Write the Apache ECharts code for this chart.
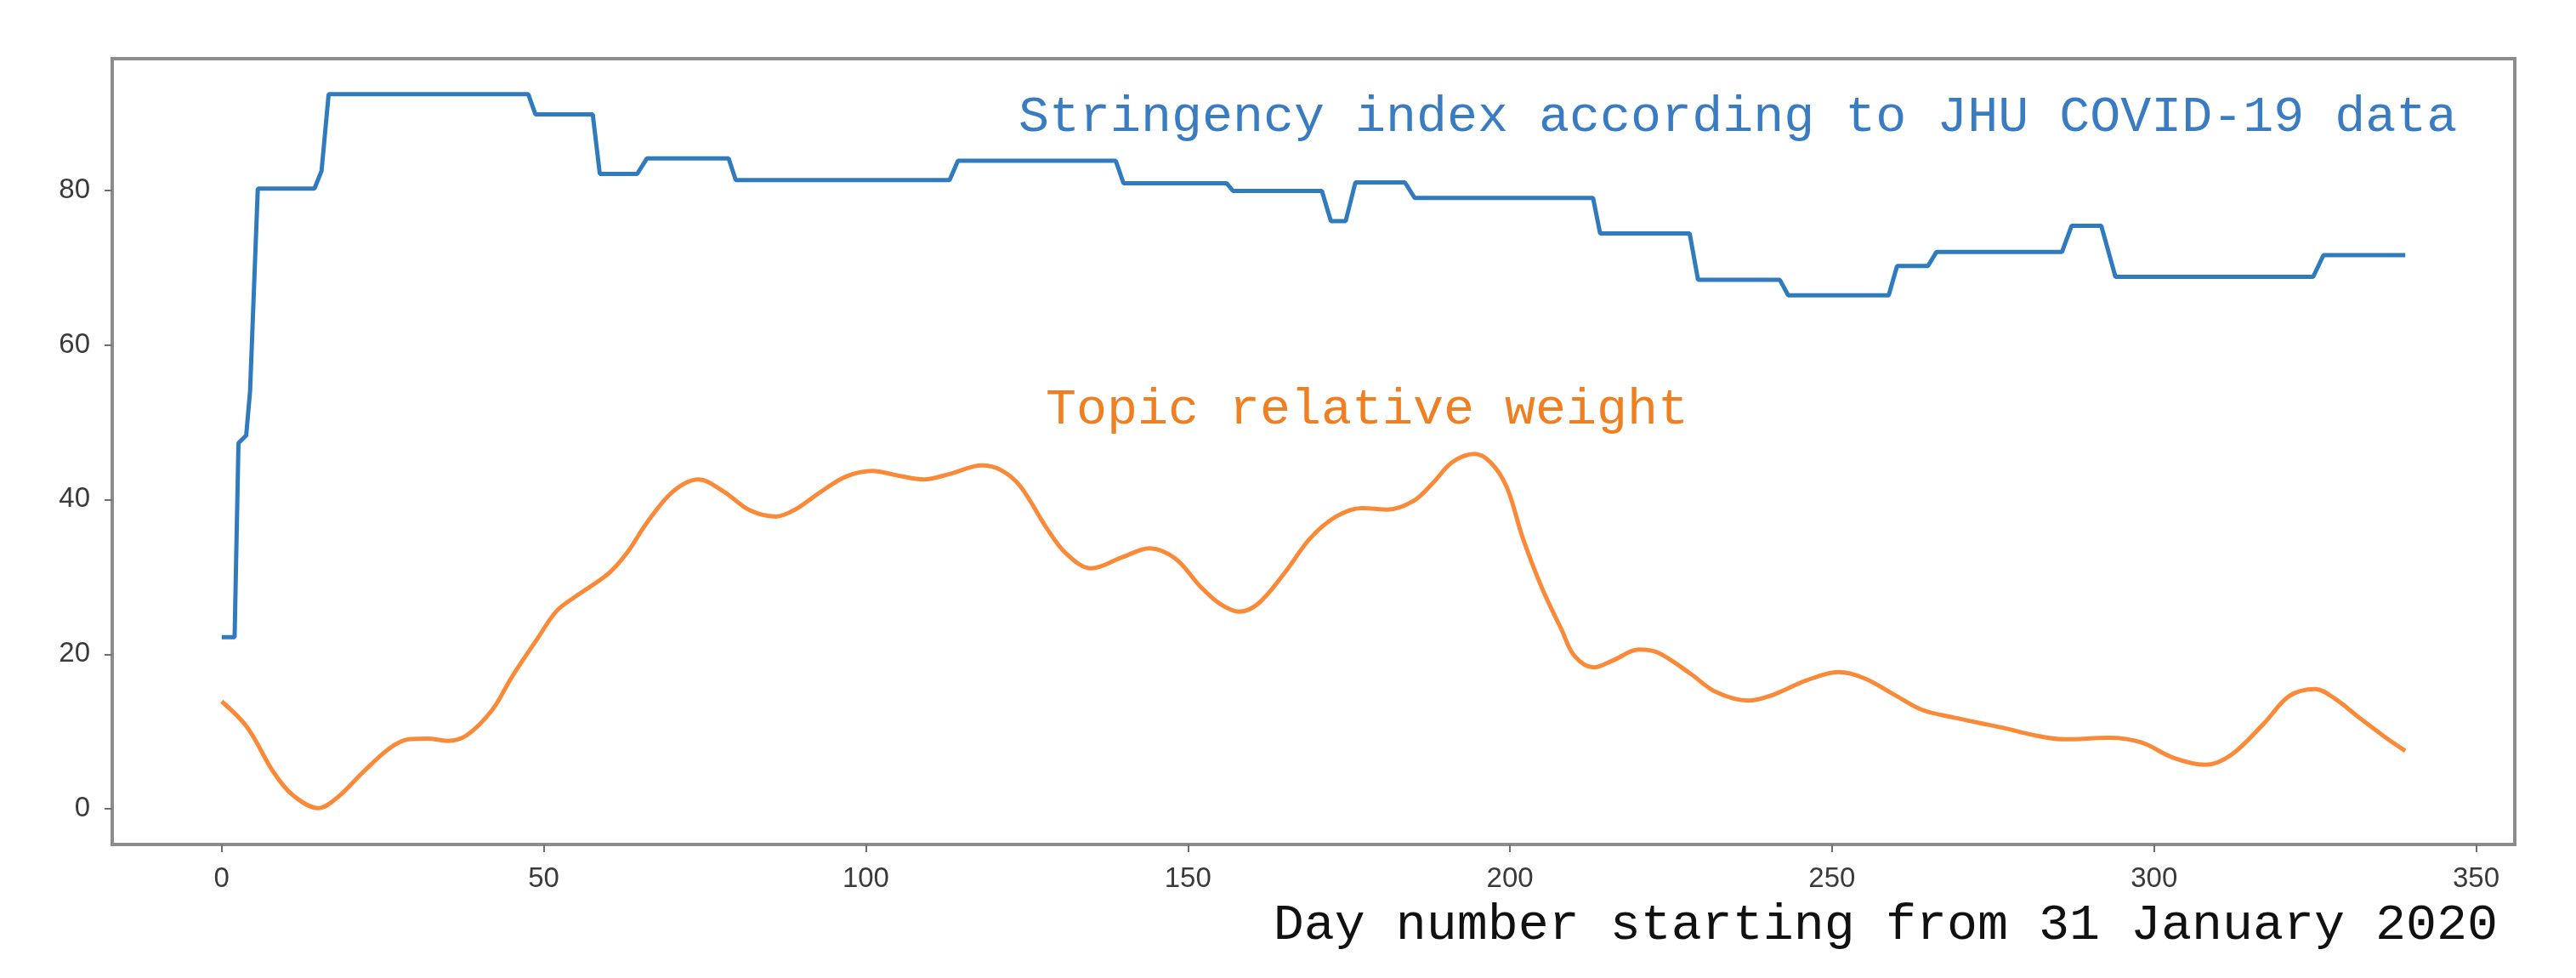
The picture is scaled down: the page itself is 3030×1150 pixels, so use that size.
<!DOCTYPE html>
<html>
<head>
<meta charset="utf-8">
<script src="https://cdn.jsdelivr.net/npm/echarts@6/dist/echarts.min.js"></script>
<style>
html,body{margin:0;padding:0;background:#fff;}
#chart{width:3030px;height:1150px;}
</style>
</head>
<body>
<div id="chart"></div>
<script>
// ---- data ----
const xTicks = [0, 50, 100, 150, 200, 250, 300, 350];
const yTicks = [0, 20, 40, 60, 80];

const stringencyDays = [0, 2, 2.6, 3.8, 4.4, 5.6, 14.4, 15.5, 16.6, 47.6, 48.7, 57.6, 58.7, 64.5, 66, 78.7, 79.8, 113, 114.3, 138.8, 140, 156, 157, 170.8, 172.2, 174.5, 176, 183.7, 185.2, 212.9, 214, 227.9, 229.2, 241.9, 243.2, 258.8, 260.1, 264.9, 266.2, 285.7, 287.2, 291.8, 294, 324.7, 326.3, 339];
const stringencyValues = [22.2, 22.2, 47.3, 48.3, 54.0, 80.2, 80.2, 82.5, 92.4, 92.4, 89.8, 89.8, 82.1, 82.1, 84.1, 84.1, 81.3, 81.3, 83.8, 83.8, 80.9, 80.9, 79.9, 79.9, 76.0, 76.0, 81.0, 81.0, 79.0, 79.0, 74.4, 74.4, 68.4, 68.4, 66.4, 66.4, 70.2, 70.2, 72.0, 72.0, 75.4, 75.4, 68.8, 68.8, 71.6, 71.6];

const topicDays = [0, 4, 8, 11, 15, 18, 22, 26, 29, 32, 35, 38, 42, 45, 49, 52, 55, 60, 63, 66, 70, 74, 78, 82, 86, 89, 93, 97, 101, 105, 109, 113, 118, 121, 124, 128, 131, 135, 140, 144, 148, 152, 155, 158, 161, 165, 169, 173, 177, 181, 185, 188, 191, 194.5, 197, 199.5, 202, 205, 208, 210, 213, 216, 220, 223, 228, 232, 237, 241, 246, 251, 255, 260, 264, 269, 273, 277, 281, 286, 293, 298, 303, 308, 312, 317, 321, 325, 328, 332, 336, 339];
const topicValues = [13.9, 10.5, 4.8, 1.8, 0.1, 1.5, 4.8, 7.8, 9.0, 9.1, 8.8, 9.5, 12.8, 17.0, 22.0, 25.6, 27.5, 30.4, 33.2, 37.0, 41.0, 42.6, 41.0, 38.6, 37.8, 38.7, 41.0, 43.0, 43.7, 43.1, 42.6, 43.3, 44.4, 43.8, 41.7, 36.4, 33.1, 31.1, 32.6, 33.7, 32.4, 28.7, 26.5, 25.5, 26.6, 30.5, 35.0, 37.8, 38.9, 38.7, 39.8, 42.1, 44.8, 45.9, 44.8, 41.6, 35.0, 28.5, 23.2, 19.8, 18.3, 19.2, 20.6, 20.2, 17.5, 15.1, 14.0, 14.8, 16.6, 17.7, 16.9, 14.6, 12.8, 11.8, 11.1, 10.4, 9.6, 9.0, 9.2, 8.6, 6.6, 5.7, 7.0, 11.0, 14.6, 15.5, 14.3, 11.7, 9.2, 7.5];

const stringencyLabel = 'Stringency index according to JHU COVID-19 data';
const topicLabel = 'Topic relative weight';
const xTitle = 'Day number starting from 31 January 2020';

// ---- chart ----
const chart = echarts.init(document.getElementById('chart'));
const mono = "'Liberation Mono', 'DejaVu Sans Mono', monospace";
const tickFont = "'Liberation Sans', 'DejaVu Sans', sans-serif";
const frameColor = '#8c8c8c';

const axisCommon = (ticks) => ({
  type: 'value',
  axisLine: { show: true, onZero: false, lineStyle: { color: frameColor, width: 4 } },
  splitLine: { show: false },
  axisTick: { show: true, customValues: ticks, length: 9, inside: false, lineStyle: { color: '#6f6f6f', width: 2 } },
  axisLabel: { customValues: ticks, color: '#3a3a3a', fontSize: 33, fontFamily: tickFont }
});

const xAxis = Object.assign(axisCommon(xTicks), { min: -17, max: 356 });
xAxis.axisLabel.margin = 24;
const yAxis = Object.assign(axisCommon(yTicks), { min: -4.6, max: 97 });
yAxis.axisLabel.margin = 26;

chart.setOption({
  backgroundColor: '#ffffff',
  animation: false,
  grid: {
    left: 132, top: 69, right: 72, bottom: 157,
    show: true, borderColor: frameColor, borderWidth: 4, backgroundColor: '#ffffff'
  },
  xAxis: xAxis,
  yAxis: yAxis,
  series: [
    {
      type: 'line', name: 'Stringency',
      data: stringencyDays.map((d, i) => [d, stringencyValues[i]]),
      showSymbol: false, smooth: false,
      lineStyle: { color: '#2f7bbd', width: 5 }
    },
    {
      type: 'line', name: 'Topic',
      data: topicDays.map((d, i) => [d, topicValues[i]]),
      showSymbol: false, smooth: 0.35,
      lineStyle: { color: '#fb8a38', width: 5 }
    }
  ],
  graphic: [
    { type: 'text', left: 1198, top: 108, style: { text: stringencyLabel, font: "60px " + mono, fill: '#3a7cc2' } },
    { type: 'text', left: 1230, top: 452, style: { text: topicLabel, font: "60px " + mono, fill: '#f07f22' } },
    { type: 'text', right: 92, top: 1058, style: { text: xTitle, font: "60px " + mono, fill: '#111' } }
  ]
});
</script>
</body>
</html>
